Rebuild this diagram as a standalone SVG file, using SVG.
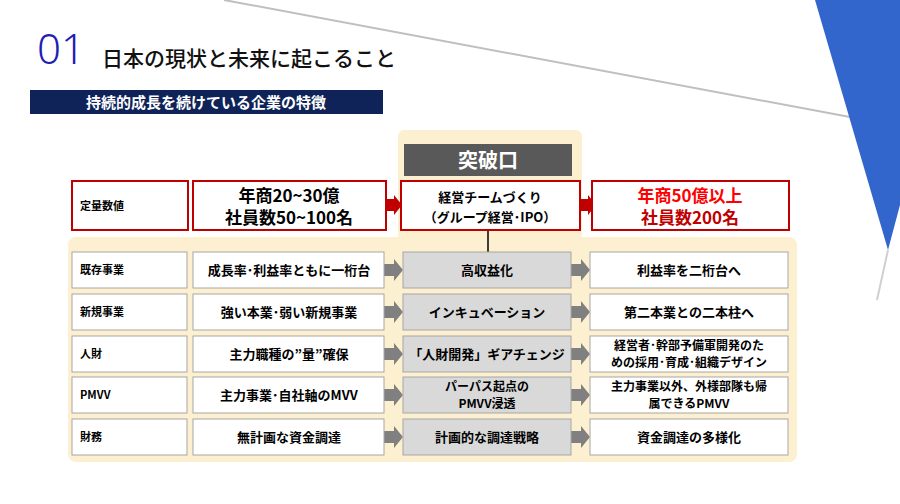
<svg xmlns="http://www.w3.org/2000/svg" width="900" height="504" viewBox="0 0 900 504">
<style>
text{font-family:"Noto Sans CJK JP","Noto Sans",sans-serif;text-anchor:middle}
.lb{font-size:11px;text-anchor:start;font-weight:bold}
.t{font-size:13px;font-weight:bold}
.t2{font-size:12px;font-weight:bold}
.rb{fill:#fff;stroke:#c00000;stroke-width:2}
.wb{fill:#fff;stroke:#a6a6a6;stroke-width:1}
.gb{fill:#d9d9d9;stroke:#a6a6a6;stroke-width:1}
</style>
<defs>
<polygon id="ga" points="0,-6 10,-6 10,-11 19,0 10,11 10,6 0,6" fill="#808080"/>
<polygon id="ra" points="0,-6 8,-6 8,-10 16,0 8,10 8,6 0,6" fill="#c00000"/>
</defs>
<rect width="900" height="504" fill="#fff"/>
<line x1="224" y1="0" x2="850" y2="117" stroke="#bfbfbf" stroke-width="2"/>
<polygon points="815,0 900,0 900,205 888,250" fill="#3366cc"/>
<line x1="888" y1="250" x2="877" y2="300" stroke="#d0d0d0" stroke-width="2"/>
<text x="37" y="64" font-size="42" fill="#1f1fb4" style="text-anchor:start;font-family:'Noto Sans',sans-serif;font-weight:300">01</text>
<text x="102" y="66" font-size="21" font-weight="500" fill="#111" style="text-anchor:start">日本の現状と未来に起こること</text>
<rect x="30" y="90" width="353" height="24" fill="#0f2358"/>
<text x="206" y="108" font-size="15" font-weight="bold" fill="#fff">持続的成長を続けている企業の特徴</text>
<rect x="398" y="130" width="184" height="110" rx="6" fill="#fdf0d0"/>
<rect x="68" y="237" width="729" height="225" rx="8" fill="#fdf0d0"/>
<g id="connectors">
<line x1="488" y1="231" x2="488" y2="252" stroke="#000" stroke-width="1.5"/>
<use href="#ra" x="386" y="205"/><use href="#ra" x="580" y="205"/>
<use href="#ga" x="384" y="270"/><use href="#ga" x="571" y="270"/>
<use href="#ga" x="384" y="312"/><use href="#ga" x="571" y="312"/>
<use href="#ga" x="384" y="354"/><use href="#ga" x="571" y="354"/>
<use href="#ga" x="384" y="395"/><use href="#ga" x="571" y="395"/>
<use href="#ga" x="384" y="437"/><use href="#ga" x="571" y="437"/>
</g>
<g id="toppa"><rect x="404" y="144" width="168" height="32" fill="#595959"/><text x="488" y="168" font-size="20" font-weight="bold" fill="#fff">突破口</text></g>
<g id="r0">
<rect class="rb" x="72" y="181" width="116" height="49"/><text class="lb" x="80" y="210">定量数値</text>
<rect class="rb" x="193" y="181" width="193" height="49"/><text x="289" y="202" font-size="17" font-weight="bold">年商20~30億</text><text x="289" y="224" font-size="17" font-weight="bold">社員数50~100名</text>
<rect class="rb" x="401" y="181" width="179" height="49"/><text class="t" x="490" y="202">経営チームづくり</text><text class="t" x="490" y="222">（グループ経営･IPO）</text>
<rect x="640" y="205" width="79" height="7" fill="#ffff00"/>
<rect class="rb" x="592" y="181" width="197" height="49"/><text x="690" y="202" font-size="17" font-weight="bold" fill="#ff0000">年商50億以上</text><text x="690" y="224" font-size="17" font-weight="bold" fill="#c00000">社員数200名</text>
</g>
<g id="r1"><rect class="wb" x="72" y="252" width="115" height="36"/><text class="lb" x="80" y="274">既存事業</text>
<rect class="wb" x="193" y="252" width="191" height="36"/><text class="t" x="289" y="275">成長率･利益率ともに一桁台</text>
<rect class="gb" x="403" y="252" width="168" height="36"/><text class="t" x="487" y="275">高収益化</text>
<rect class="wb" x="590" y="252" width="198" height="36"/><text class="t" x="689" y="275">利益率を二桁台へ</text></g>
<g id="r2"><rect class="wb" x="72" y="294" width="115" height="36"/><text class="lb" x="80" y="316">新規事業</text>
<rect class="wb" x="193" y="294" width="191" height="36"/><text class="t" x="289" y="317">強い本業･弱い新規事業</text>
<rect class="gb" x="403" y="294" width="168" height="36"/><text class="t" x="487" y="317">インキュベーション</text>
<rect class="wb" x="590" y="294" width="198" height="36"/><text class="t" x="689" y="317">第二本業との二本柱へ</text></g>
<g id="r3"><rect class="wb" x="72" y="336" width="115" height="36"/><text class="lb" x="80" y="358">人財</text>
<rect class="wb" x="193" y="336" width="191" height="36"/><text class="t" x="289" y="359">主力職種の”量”確保</text>
<rect class="gb" x="403" y="336" width="168" height="36"/><text class="t" x="487" y="359">「人財開発」ギアチェンジ</text>
<rect class="wb" x="590" y="336" width="198" height="36"/><text class="t2" x="689" y="350">経営者･幹部予備軍開発のた</text><text class="t2" x="689" y="367">めの採用･育成･組織デザイン</text></g>
<g id="r4"><rect class="wb" x="72" y="377" width="115" height="36"/><text class="lb" x="80" y="399">PMVV</text>
<rect class="wb" x="193" y="377" width="191" height="36"/><text class="t" x="289" y="400">主力事業･自社軸のMVV</text>
<rect class="gb" x="403" y="377" width="168" height="36"/><text class="t2" x="487" y="391">パーパス起点の</text><text class="t2" x="487" y="408">PMVV浸透</text>
<rect class="wb" x="590" y="377" width="198" height="36"/><text class="t2" x="689" y="391">主力事業以外、外様部隊も帰</text><text class="t2" x="689" y="408">属できるPMVV</text></g>
<g id="r5"><rect class="wb" x="72" y="419" width="115" height="36"/><text class="lb" x="80" y="441">財務</text>
<rect class="wb" x="193" y="419" width="191" height="36"/><text class="t" x="289" y="442">無計画な資金調達</text>
<rect class="gb" x="403" y="419" width="168" height="36"/><text class="t" x="487" y="442">計画的な調達戦略</text>
<rect class="wb" x="590" y="419" width="198" height="36"/><text class="t" x="689" y="442">資金調達の多様化</text></g>
</svg>
